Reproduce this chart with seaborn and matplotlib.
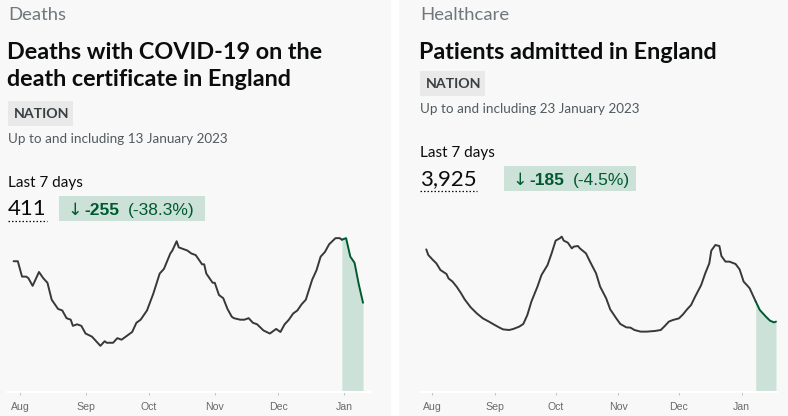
import matplotlib
matplotlib.use("Agg")
import matplotlib.pyplot as plt
from matplotlib.patches import Rectangle
from matplotlib.lines import Line2D
import pandas as pd
import seaborn as sns

# --- data ---
deaths_dates = [
    "2022-07-29", "2022-07-31", "2022-08-02", "2022-08-04", "2022-08-05", "2022-08-07",
    "2022-08-08", "2022-08-10", "2022-08-12", "2022-08-14", "2022-08-16", "2022-08-19",
    "2022-08-21", "2022-08-23", "2022-08-25", "2022-08-26", "2022-08-28", "2022-08-30",
    "2022-09-01", "2022-09-04", "2022-09-06", "2022-09-08", "2022-09-10", "2022-09-11",
    "2022-09-14", "2022-09-16", "2022-09-18", "2022-09-21", "2022-09-23", "2022-09-25",
    "2022-09-27", "2022-09-30", "2022-10-03", "2022-10-06", "2022-10-08", "2022-10-11",
    "2022-10-12", "2022-10-14", "2022-10-15", "2022-10-17", "2022-10-19", "2022-10-21",
    "2022-10-23", "2022-10-26", "2022-10-27", "2022-10-28", "2022-10-31", "2022-11-01",
    "2022-11-03", "2022-11-05", "2022-11-07", "2022-11-09", "2022-11-10", "2022-11-13",
    "2022-11-15", "2022-11-17", "2022-11-19", "2022-11-21", "2022-11-24", "2022-11-27",
    "2022-11-28", "2022-11-30", "2022-12-02", "2022-12-04", "2022-12-06", "2022-12-08",
    "2022-12-10", "2022-12-12", "2022-12-14", "2022-12-17", "2022-12-19", "2022-12-21",
    "2022-12-23", "2022-12-25", "2022-12-28", "2022-12-30", "2022-12-31", "2023-01-02",
    "2023-01-04", "2023-01-05", "2023-01-06", "2023-01-08", "2023-01-10",
]
deaths_values = [
    85, 85, 75, 75, 74, 69, 72, 78, 74, 71, 60, 54, 53, 48, 47, 43, 44, 43,
    38, 36, 33, 30, 33, 32, 32, 35, 34, 37, 39, 45, 47, 53, 64, 77, 80, 90,
    92, 98, 94, 93, 92, 90, 89, 83, 83, 77, 71, 71, 63, 61, 54, 49, 48, 47,
    47, 48, 45, 44, 40, 38, 39, 41, 39, 44, 47, 51, 53, 57, 60, 73, 79, 88,
    91, 96, 100, 100, 99, 100, 88, 86, 84, 70, 58,
]
deaths_recent_from = "2022-12-31"

admissions_dates = [
    "2022-07-29", "2022-07-30", "2022-08-01", "2022-08-03", "2022-08-05", "2022-08-08",
    "2022-08-09", "2022-08-11", "2022-08-13", "2022-08-15", "2022-08-17", "2022-08-20",
    "2022-08-23", "2022-08-26", "2022-08-29", "2022-08-31", "2022-09-03", "2022-09-05",
    "2022-09-08", "2022-09-10", "2022-09-13", "2022-09-15", "2022-09-17", "2022-09-19",
    "2022-09-22", "2022-09-24", "2022-09-27", "2022-09-29", "2022-10-01", "2022-10-03",
    "2022-10-04", "2022-10-05", "2022-10-07", "2022-10-09", "2022-10-10", "2022-10-12",
    "2022-10-13", "2022-10-16", "2022-10-18", "2022-10-21", "2022-10-23", "2022-10-26",
    "2022-10-28", "2022-10-31", "2022-11-02", "2022-11-05", "2022-11-07", "2022-11-09",
    "2022-11-12", "2022-11-15", "2022-11-19", "2022-11-22", "2022-11-24", "2022-11-26",
    "2022-11-28", "2022-12-01", "2022-12-03", "2022-12-05", "2022-12-07", "2022-12-09",
    "2022-12-12", "2022-12-14", "2022-12-16", "2022-12-17", "2022-12-19", "2022-12-21",
    "2022-12-22", "2022-12-24", "2022-12-26", "2022-12-29", "2022-12-31", "2023-01-02",
    "2023-01-04", "2023-01-05", "2023-01-08", "2023-01-10", "2023-01-13", "2023-01-15",
    "2023-01-17", "2023-01-18",
]
admissions_values = [
    1141, 1096, 1061, 1029, 976, 944, 909, 883, 843, 795, 741, 677, 629, 589, 563, 544,
    517, 501, 496, 504, 523, 544, 616, 723, 843, 936, 1016, 1109, 1211, 1229, 1243, 1211,
    1195, 1149, 1163, 1168, 1149, 1109, 1043, 949, 843, 749, 661, 589, 544, 517, 515, 496,
    483, 483, 488, 496, 528, 563, 576, 589, 621, 661, 696, 763, 856, 949, 1029, 1131,
    1176, 1168, 1088, 1043, 1043, 1024, 981, 883, 848, 829, 723, 656, 603, 571, 557, 563,
]
admissions_recent_from = "2023-01-08"

month_ticks = ["2022-08-01", "2022-09-01", "2022-10-01", "2022-11-01", "2022-12-01", "2023-01-01"]
month_labels = ["Aug", "Sep", "Oct", "Nov", "Dec", "Jan"]

# --- style ---
W, H = 788, 416
sns.set_style("white")
plt.rcParams["font.family"] = ["Lato", "DejaVu Sans"]

PANEL_BG = "#f8f8f8"
DARK = "#0b0c0c"
GREY = "#6f777b"
LINE = "#383838"
GREEN = "#005a30"
GREEN_BG = "#cce2d8"
NUM_FONT = ["Liberation Sans", "DejaVu Sans"]

fig = plt.figure(figsize=(W / 100, H / 100), dpi=100)
fig.patch.set_facecolor("white")


def fx(x):
    return x / W


def fy(y):
    return 1 - y / H


def rect(x0, y0, x1, y1, color):
    fig.add_artist(Rectangle((fx(x0), fy(y1)), fx(x1) - fx(x0), fy(y0) - fy(y1),
                             transform=fig.transFigure, color=color, lw=0, zorder=0))


def text(x, y, s, **kw):
    return fig.text(fx(x), fy(y), s, va="baseline", ha="left", **kw)


def card(x0, x1, tx, category, title_lines, date_text, total, change, pct, badge_x, badge_w):
    rect(x0, 0, x1, H, PANEL_BG)
    text(tx, 20.5, category, fontsize=13.3, color=GREY)
    for i, line in enumerate(title_lines):
        text(tx - 1, 59 + 27 * i, line, fontsize=16.8, fontweight="bold", color=DARK)
    off = 30 * (len(title_lines) - 1)
    # NATION tag
    rect(tx, 71 + off, tx + 65, 96 + off, "#e9e9e9")
    text(tx + 6, 88 + off, "NATION", fontsize=10.2, fontweight="bold", color="#383f43")
    text(tx, 113 + off, date_text, fontsize=9.7, color="#505a5f")
    text(tx, 157 + off, "Last 7 days", fontsize=11, color=DARK)
    t = text(tx, 185 + off, total, fontsize=16, color=DARK)
    fig.canvas.draw()
    bb = t.get_window_extent()
    fig.add_artist(Line2D([fx(tx), fx(tx) + (bb.x1 - bb.x0) / W], [fy(191 + off)] * 2,
                          transform=fig.transFigure, color=DARK, lw=0.9, ls=(0, (1.2, 1.6))))
    rect(badge_x, 166 + off, badge_x + badge_w, 191 + off, GREEN_BG)
    text(badge_x + 8, 185 + off, "\u2193", fontsize=12.5, color=GREEN, family=["DejaVu Sans"])
    text(badge_x + 25, 185 + off, change, fontsize=12.5, fontweight="bold", color=GREEN, family=NUM_FONT)
    text(badge_x + 69, 185 + off, pct, fontsize=12.5, color=GREEN, family=NUM_FONT)


def chart(ax_px, dates, values, recent_from, xlim_days, ymax):
    x0, y0, x1, y1 = ax_px
    ax = fig.add_axes([fx(x0), fy(y1), fx(x1) - fx(x0), fy(y0) - fy(y1)])
    ax.set_facecolor(PANEL_BG)
    df = pd.DataFrame({"date": pd.to_datetime(dates), "value": values})
    cut = pd.Timestamp(recent_from)
    old = df[df["date"] <= cut]
    new = df[df["date"] >= cut]
    ax.fill_between(new["date"], 0, new["value"], color=GREEN_BG, lw=0, zorder=1)
    sns.lineplot(data=old, x="date", y="value", ax=ax, color=LINE, lw=1.4, zorder=3)
    sns.lineplot(data=new, x="date", y="value", ax=ax, color=GREEN, lw=1.4, zorder=3)
    base = pd.Timestamp("2022-08-01")
    ax.set_xlim(base + pd.Timedelta(days=xlim_days[0]), base + pd.Timedelta(days=xlim_days[1]))
    ax.set_ylim(0, ymax)
    ax.set_xticks(pd.to_datetime(month_ticks))
    ax.set_xticklabels(month_labels)
    ax.set_yticks([])
    ax.set_xlabel("")
    ax.set_ylabel("")
    for side in ["top", "left", "right"]:
        ax.spines[side].set_visible(False)
    ax.spines["bottom"].set_color("white")
    ax.spines["bottom"].set_linewidth(1.5)
    ax.tick_params(axis="x", length=2.5, width=0.6, color="#b8b8b8", pad=5,
                   labelsize=7.6, labelcolor="#6a6a6a", bottom=True)
    for lab in ax.get_xticklabels():
        lab.set_family(["Liberation Sans"])
    return ax


card(0, 391, 8, "Deaths", ["Deaths with COVID-19 on the", "death certificate in England"],
     "Up to and including 13 January 2023", "411", "-255", "(-38.3%)", 59, 146)
card(399, W, 420, "Healthcare", ["Patients admitted in England"],
     "Up to and including 23 January 2023", "3,925", "-185", "(-4.5%)", 504, 132)

chart((7, 230, 370, 392), deaths_dates, deaths_values, deaths_recent_from, (-6.1, 165.3), 105.3)
chart((420, 230, 777, 392), admissions_dates, admissions_values, admissions_recent_from, (-6.1, 170.5), 1296)

fig.savefig("out.png", dpi=100, facecolor=fig.get_facecolor())
